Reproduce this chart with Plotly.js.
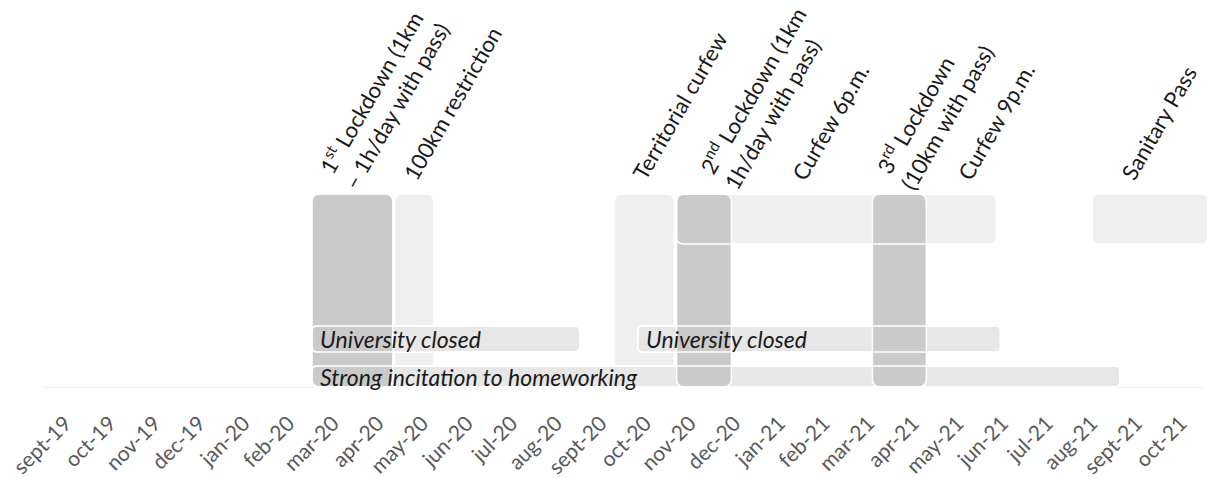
<!DOCTYPE html>
<html>
<head>
<meta charset="utf-8">
<script src="https://cdn.plot.ly/plotly-3.0.1.min.js"></script>
<style>
html,body{margin:0;padding:0;background:#ffffff;}
#chart{width:1210px;height:478px;}
</style>
</head>
<body>
<div id="chart"></div>
<script>
// ---------- DATA (x in month units: 0 = sept-19, 1 = oct-19, ...) ----------
const months = ['sept-19','oct-19','nov-19','dec-19','jan-20','feb-20','mar-20','apr-20','may-20',
  'jun-20','jul-20','aug-20','sept-20','oct-20','nov-20','dec-20','jan-21','feb-21','mar-21',
  'apr-21','may-21','jun-21','jul-21','aug-21','sept-21','oct-21'];

// strict lockdowns (dark vertical blocks)
const lockdownName  = ['1st Lockdown', '2nd Lockdown', '3rd Lockdown'];
const lockdownStart = [5.53, 13.70, 18.09];
const lockdownEnd   = [7.34, 14.93, 19.30];

// lighter restrictions (light vertical blocks)
const restrictionName  = ['100km restriction', 'Territorial curfew'];
const restrictionStart = [7.38, 12.31];
const restrictionEnd   = [8.26, 13.65];

// curfew / pass periods (upper band)
const curfewName  = ['Curfews', 'Sanitary Pass'];
const curfewStart = [13.70, 23.02];
const curfewEnd   = [20.87, 25.61];

// university closures
const univName  = ['University closed', 'University closed'];
const univStart = [5.53, 12.83];
const univEnd   = [11.53, 20.96];

// homeworking
const homeName  = ['Strong incitation to homeworking'];
const homeStart = [5.53];
const homeEnd   = [23.64];

// event labels (x = where the label text starts)
const labelLine1 = ['1<sup>st</sup> Lockdown (1km', '100km restriction', 'Territorial curfew',
  '2<sup>nd</sup> Lockdown (1km', 'Curfew 6p.m.', '3<sup>rd</sup> Lockdown', 'Curfew 9p.m.', 'Sanitary Pass'];
const labelLine2 = ['– 1h/day with pass)', '', '', '1h/day with pass)', '', '(10km with pass)', '', ''];
const labelX     = [5.75, 7.67, 12.80, 14.28, 16.39, 18.24, 20.10, 23.78];

// ---------- LAYOUT / STYLE ----------
const W = 1210, H = 478;
const AX_L = 43, AX_R = 1203;                // pixel extent of the month axis
const PX_X = (AX_R - AX_L) / months.length;  // px per month
const MB = 90, PLOT_H = H - MB;
const PX_Y = 10;                             // px per y unit
const xr = [-0.5 - AX_L / PX_X, months.length - 0.5 + (W - AX_R) / PX_X];
const yr = [0, PLOT_H / PX_Y];

const lane = { tall:[0.1, 19.4], top:[14.4, 19.4], univ:[3.6, 6.2], home:[0.1, 2.2] };
const DARK = '#cacaca', LIGHT = '#efefef', BAND = '#e7e7e7';
const FONT = 'Lato, "Open Sans", sans-serif';

function rrect(x0, x1, y0, y1, r, fill, lineColor, lineW) {
  const rx = r / PX_X, ry = r / PX_Y;
  const p = 'M' + (x0 + rx) + ',' + y1 +
    ' L' + (x1 - rx) + ',' + y1 +
    ' Q' + x1 + ',' + y1 + ' ' + x1 + ',' + (y1 - ry) +
    ' L' + x1 + ',' + (y0 + ry) +
    ' Q' + x1 + ',' + y0 + ' ' + (x1 - rx) + ',' + y0 +
    ' L' + (x0 + rx) + ',' + y0 +
    ' Q' + x0 + ',' + y0 + ' ' + x0 + ',' + (y0 + ry) +
    ' L' + x0 + ',' + (y1 - ry) +
    ' Q' + x0 + ',' + y1 + ' ' + (x0 + rx) + ',' + y1 + ' Z';
  return { type:'path', xref:'x', yref:'y', path:p, layer:'above',
    fillcolor: fill, line:{ color: lineColor, width: lineW } };
}

const shapes = [];
// axis base line
shapes.push({ type:'line', xref:'x', yref:'y', x0:-0.5, x1:months.length - 0.5, y0:0, y1:0,
  line:{ color:'#d9d9d9', width:1 }, layer:'below' });
// light vertical blocks
restrictionStart.forEach((s, i) => shapes.push(rrect(s, restrictionEnd[i], lane.tall[0], lane.tall[1], 8, LIGHT, '#ffffff', 1.5)));
// bands
curfewStart.forEach((s, i) => shapes.push(rrect(s, curfewEnd[i], lane.top[0], lane.top[1], 7, LIGHT, '#ffffff', 1.5)));
univStart.forEach((s, i) => shapes.push(rrect(s, univEnd[i], lane.univ[0], lane.univ[1], 5, BAND, '#ffffff', 1.5)));
homeStart.forEach((s, i) => shapes.push(rrect(s, homeEnd[i], lane.home[0], lane.home[1], 5, BAND, '#ffffff', 1.5)));
// dark lockdown blocks
lockdownStart.forEach((s, i) => shapes.push(rrect(s, lockdownEnd[i], lane.tall[0], lane.tall[1], 8, DARK, '#ffffff', 1.5)));
// white outlines of bands drawn over the lockdown blocks
curfewStart.forEach((s, i) => { if (i === 0) shapes.push(rrect(s, curfewEnd[i], lane.top[0], lane.top[1], 7, 'rgba(0,0,0,0)', '#ffffff', 1.5)); });
univStart.forEach((s, i) => shapes.push(rrect(s, univEnd[i], lane.univ[0], lane.univ[1], 5, 'rgba(0,0,0,0)', '#ffffff', 1.5)));
homeStart.forEach((s, i) => shapes.push(rrect(s, homeEnd[i], lane.home[0], lane.home[1], 5, 'rgba(0,0,0,0)', '#ffffff', 1.5)));

const annotations = [];
const ANG = -60, LFS = 22;
labelLine1.forEach((t, i) => {
  const two = labelLine2[i] !== '';
  annotations.push({ x: labelX[i], y: lane.tall[1], xref:'x', yref:'y', text: t, showarrow:false,
    textangle: ANG, xanchor:'left', yanchor:'bottom', xshift:-13, yshift: two ? 13 : 7,
    font:{ family: FONT, size: LFS, color:'#1a1a1a' } });
  if (two) {
    annotations.push({ x: labelX[i], y: lane.tall[1], xref:'x', yref:'y', text: labelLine2[i], showarrow:false,
      textangle: ANG, xanchor:'left', yanchor:'bottom', xshift:-13 + 26, yshift: -3,
      font:{ family: FONT, size: LFS, color:'#1a1a1a' } });
  }
});
function bandLabel(name, start, ln) {
  name.forEach((t, i) => annotations.push({ x: start[i], y: (ln[0] + ln[1]) / 2, xref:'x', yref:'y',
    text: '<i>' + t + '</i>', showarrow:false, xanchor:'left', yanchor:'middle', xshift:6,
    font:{ family: FONT, size: 23, color:'#1a1a1a' } }));
}
bandLabel(univName, univStart, lane.univ);
bandLabel(homeName, homeStart, lane.home);

const data = [{ type:'scatter', mode:'none', x: months.map((m, i) => i), y: months.map(() => 0),
  hoverinfo:'skip', showlegend:false }];

const layout = {
  width: W, height: H,
  margin: { l:0, r:0, t:0, b:MB, pad:0 },
  paper_bgcolor:'#ffffff', plot_bgcolor:'#ffffff',
  showlegend:false,
  xaxis: { range: xr, tickmode:'array', tickvals: months.map((m, i) => i), ticktext: months,
    tickangle:-45, showgrid:false, zeroline:false, showline:false, ticks:'', automargin:false,
    ticklabelstandoff: 18,
    tickfont:{ family: FONT, size: 21, color:'#595959' }, fixedrange:true },
  yaxis: { range: yr, visible:false, showgrid:false, zeroline:false, fixedrange:true },
  shapes: shapes,
  annotations: annotations
};
Plotly.newPlot('chart', data, layout, { displayModeBar:false, staticPlot:true });
</script>
</body>
</html>
